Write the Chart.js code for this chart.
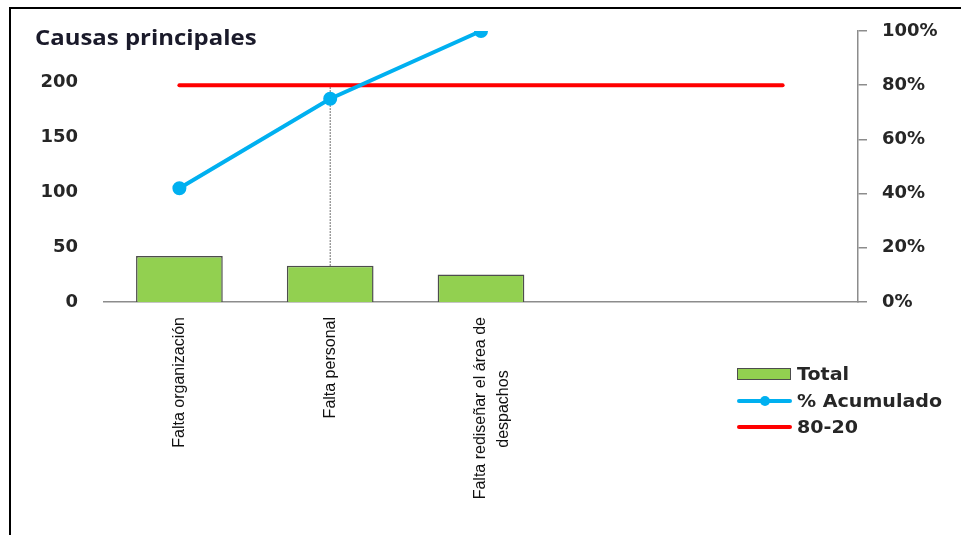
<!DOCTYPE html>
<html>
<head>
<meta charset="utf-8">
<script src="https://cdn.jsdelivr.net/npm/chart.js@4.4.0/dist/chart.umd.min.js"></script>
<style>
  body { margin: 0; background: #fff; }
  #wrap { position: relative; width: 961px; height: 535px; overflow: hidden; }
  #frame { position: absolute; left: 9px; top: 7px; width: 1100px; height: 700px;
           border-left: 2px solid #000; border-top: 2px solid #000; pointer-events: none; }
  #title { position: absolute; left: 35px; top: 25px; font: bold 21px "Open Sans"; color: #1a1a2a;
           line-height: 24px; transform: scaleX(1.14); transform-origin: 0 0; white-space: nowrap; }
  .lg { position: absolute; left: 737px; height: 26px; font: bold 18px "DejaVu Sans"; color: #262626; }
  .lg .sym { position: absolute; left: 0; width: 55px; }
  .lg .txt { position: absolute; left: 60px; top: 0; line-height: 26px; white-space: nowrap;
             transform: scaleX(1.06); transform-origin: 0 0; }
</style>
</head>
<body>
<div id="wrap">
  <canvas id="myChart"></canvas>
  <div id="frame"></div>
  <div id="title">Causas principales</div>
  <div id="legend"></div>
</div>

<script>
    // values
    var categories = ['Falta organización', 'Falta personal', ['Falta rediseñar el área de', 'despachos'], '', ''];
    var totals = [42, 33, 25];
    var cumulativePct = [42, 75, 100];
    var paretoLine = [80, 80, 80, 80, 80];
    var dropLine = [33, 197];          // dotted guide under "Falta personal"
    var leftTicks = [0, 50, 100, 150, 200];
    var rightTicks = [0, 20, 40, 60, 80, 100];
    var leftMax = 247;

    var green = '#92D050', blue = '#00B0F0', red = '#FF0000';
    var labelFont = { family: 'Liberation Sans', size: 16, lineHeight: 1.4 };
    var tickFont = { family: 'DejaVu Sans', size: 18, weight: 'bold' };

    // centre the shorter lines of a multi-line label (chart.js right-aligns rotated text)
    function centerLines(lbl) {
        if (!Array.isArray(lbl)) return lbl;
        var ctx = document.createElement('canvas').getContext('2d');
        ctx.font = labelFont.size + 'px "' + labelFont.family + '"';
        var widest = Math.max.apply(null, lbl.map(function (s) { return ctx.measureText(s).width; }));
        var sp = ctx.measureText(' ').width;
        return lbl.map(function (s) {
            var n = Math.round((widest - ctx.measureText(s).width) / 2 / sp);
            return s + ' '.repeat(n);
        });
    }

    new Chart('myChart', {
        type: 'bar',
        data: {
            labels: categories.map(centerLines),
            datasets: [
                {
                    type: 'line',
                    label: '% Acumulado',
                    data: cumulativePct,
                    yAxisID: 'y2',
                    borderColor: blue,
                    backgroundColor: blue,
                    borderWidth: 4,
                    borderCapStyle: 'round',
                    pointRadius: 5,
                    pointBackgroundColor: blue,
                    pointBorderColor: blue,
                    order: 1
                },
                {
                    type: 'line',
                    label: '80-20',
                    data: paretoLine,
                    yAxisID: 'y2',
                    borderColor: red,
                    borderWidth: 4,
                    borderCapStyle: 'round',
                    pointRadius: 0,
                    order: 2
                },
                {
                    type: 'line',
                    label: 'guide',
                    data: [{ x: categories[1], y: dropLine[0] }, { x: categories[1], y: dropLine[1] }],
                    yAxisID: 'y',
                    borderColor: '#404040',
                    borderWidth: 1,
                    borderDash: [1.5, 1.5],
                    pointRadius: 0,
                    order: 3
                },
                {
                    label: 'Total',
                    data: totals,
                    yAxisID: 'y',
                    backgroundColor: green,
                    borderColor: '#4d4d4d',
                    borderWidth: 1.5,
                    categoryPercentage: 1,
                    barPercentage: 0.575,
                    order: 4
                }
            ]
        },
        options: {
            responsive: true,
            maintainAspectRatio: false,
            animation: false,
            layout: { padding: { top: 31, left: 0, right: 0, bottom: 0 } },
            plugins: { legend: { display: false }, tooltip: { enabled: false } },
            scales: {
                x: {
                    offset: true,
                    grid: { display: false, drawTicks: false },
                    border: { display: true, color: '#8c8c8c', width: 1.5 },
                    ticks: { autoSkip: false, minRotation: 90, maxRotation: 90, padding: 15, color: '#111', font: labelFont },
                    afterFit: function (s) { s.height = 233; }
                },
                y: {
                    position: 'left',
                    min: 0,
                    max: leftMax,
                    grid: { display: false, drawTicks: true, tickLength: 22 },
                    border: { display: false },
                    ticks: { padding: 4, color: '#262626', font: tickFont },
                    afterBuildTicks: function (s) { s.ticks = leftTicks.map(function (v) { return { value: v }; }); },
                    afterFit: function (s) { s.width = 104; }
                },
                y2: {
                    position: 'right',
                    min: 0,
                    max: 100,
                    grid: { drawOnChartArea: false, drawTicks: true, tickLength: 9, color: '#8c8c8c', lineWidth: 1.5 },
                    border: { color: '#8c8c8c', width: 1.5 },
                    ticks: { padding: 15, color: '#262626', font: tickFont, callback: function (v) { return v + '%'; } },
                    afterBuildTicks: function (s) { s.ticks = rightTicks.map(function (v) { return { value: v }; }); },
                    afterFit: function (s) { s.width = 103; }
                }
            }
        }
    });

    // legend (html, right of the category labels)
    var legendItems = [
        { text: 'Total', kind: 'box', color: green, top: 361 },
        { text: '% Acumulado', kind: 'dot', color: blue, top: 388 },
        { text: '80-20', kind: 'line', color: red, top: 414 }
    ];
    var lg = document.getElementById('legend');
    legendItems.forEach(function (it) {
        var row = document.createElement('div');
        row.className = 'lg';
        row.style.top = it.top + 'px';
        var sym = '';
        if (it.kind === 'box') {
            sym = '<div class="sym" style="top:7px;height:10px;background:' + it.color + ';border:1.5px solid #4d4d4d;width:52px"></div>';
        } else {
            sym = '<div class="sym" style="top:11px;height:4px;border-radius:2px;background:' + it.color + '"></div>';
            if (it.kind === 'dot') sym += '<div style="position:absolute;left:23px;top:8px;width:10px;height:10px;border-radius:5px;background:' + it.color + '"></div>';
        }
        row.innerHTML = sym + '<div class="txt">' + it.text + '</div>';
        lg.appendChild(row);
    });
</script>
</body>
</html>
